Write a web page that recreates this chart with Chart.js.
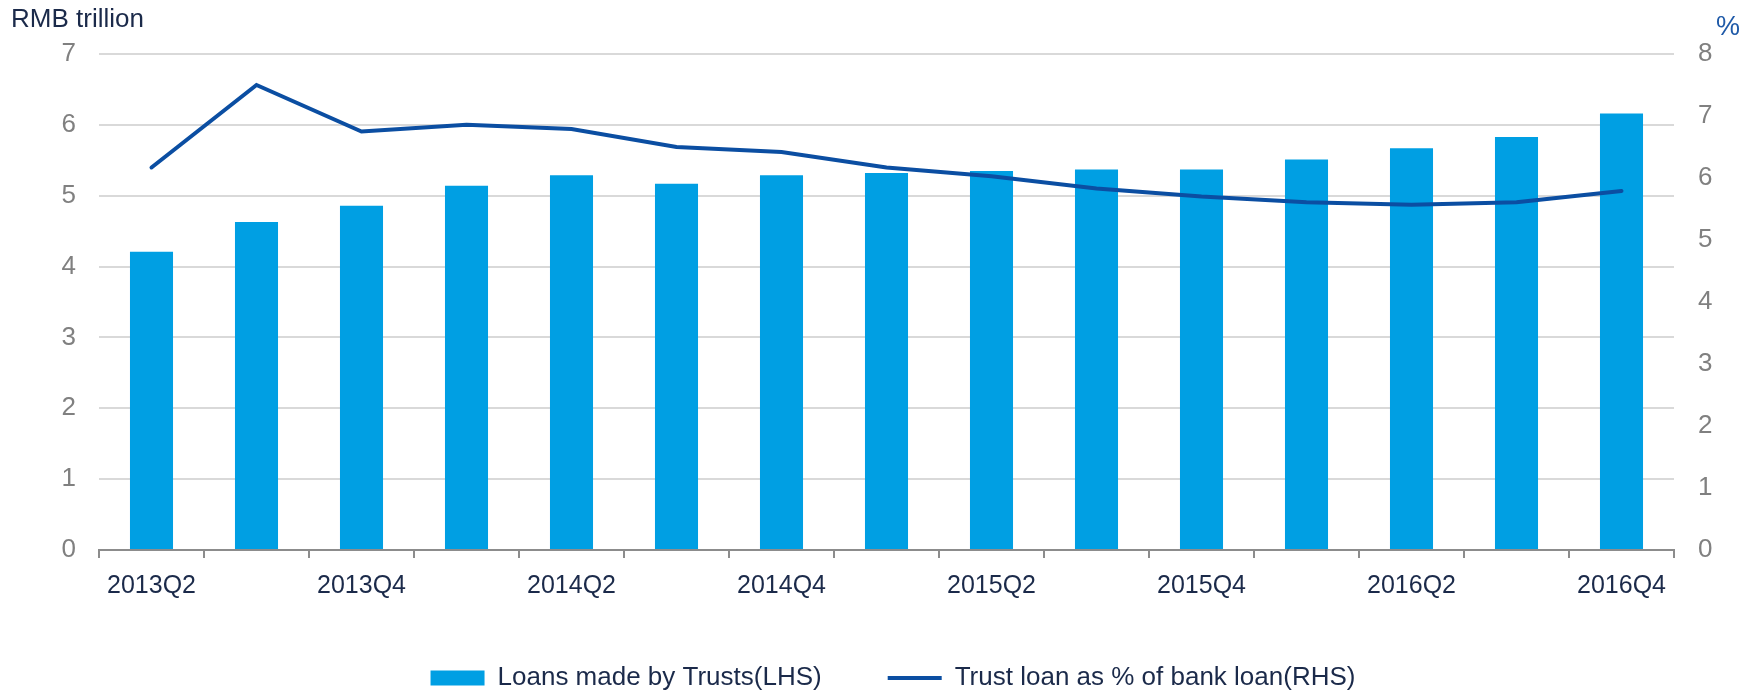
<!DOCTYPE html>
<html>
<head>
<meta charset="utf-8">
<script src="https://cdn.jsdelivr.net/npm/chart.js@4.4.1/dist/chart.umd.min.js"></script>
<style>
    html, body { margin: 0; padding: 0; background: #fff; }
    #wrap { width: 1758px; height: 693px; }
</style>
</head>
<body>
<div id="wrap"><canvas id="trust"></canvas></div>
<script>
const quarters = ['2013Q2', '2013Q3', '2013Q4', '2014Q1', '2014Q2', '2014Q3', '2014Q4', '2015Q1',
    '2015Q2', '2015Q3', '2015Q4', '2016Q1', '2016Q2', '2016Q3', '2016Q4'];
const trustLoans = [4.21, 4.63, 4.86, 5.14, 5.29, 5.17, 5.29, 5.32, 5.35, 5.37, 5.37, 5.51, 5.67, 5.83, 6.16];
const trustShare = [6.17, 7.50, 6.75, 6.86, 6.79, 6.50, 6.42, 6.17, 6.03, 5.83, 5.70, 5.61, 5.57, 5.61, 5.79];

const FONT = '"Liberation Sans", Arial, sans-serif';
const NAVY = '#1B2A4A';

// unit labels above both y axes
const unitLabels = {
    id: 'unitLabels',
    afterDraw(chart) {
        const ctx = chart.ctx;
        const right = chart.scales.y1;
        ctx.save();
        ctx.textBaseline = 'alphabetic';
        ctx.textAlign = 'left';
        ctx.font = '26px ' + FONT;
        ctx.fillStyle = NAVY;
        ctx.fillText('RMB trillion', 11, 27);
        ctx.font = '27px ' + FONT;
        ctx.fillStyle = '#1F5AA8';
        ctx.textAlign = 'center';
        ctx.fillText('%', right.left + 54, 35);
        ctx.restore();
    }
};

const trust_ctx = document.getElementById('trust');

let trust = new Chart(trust_ctx, {
    type: 'bar',
    data: {
        labels: quarters,
        datasets: [{
            type: 'line',
            label: 'Trust loan as % of bank loan(RHS)',
            data: trustShare,
            yAxisID: 'y1',
            borderColor: '#0B4EA2',
            backgroundColor: '#0B4EA2',
            borderWidth: 4,
            borderCapStyle: 'round',
            tension: 0,
            pointRadius: 0,
            pointStyle: 'line',
            order: 1,
        },
        {
            label: 'Loans made by Trusts(LHS)',
            data: trustLoans,
            yAxisID: 'y',
            backgroundColor: '#009FE3',
            borderWidth: 0,
            barPercentage: 0.41,
            categoryPercentage: 1,
            pointStyle: 'rect',
            order: 2,
        }]
    },
    options: {
        responsive: true,
        maintainAspectRatio: false,
        animation: false,
        layout: {
            // left padding only nudges the legend; the y axis width absorbs it
            padding: { top: 54, left: 28, right: 0, bottom: -8 }
        },
        plugins: {
            tooltip: { enabled: false },
            legend: {
                position: 'bottom',
                reverse: true,
                labels: {
                    usePointStyle: true,
                    pointStyleWidth: 54,
                    boxHeight: 15,
                    padding: 66,
                    color: NAVY,
                    font: { family: FONT, size: 26 },
                }
            }
        },
        scales: {
            x: {
                offset: true,
                grid: {
                    offset: true,
                    drawOnChartArea: false,
                    color: '#8C8C8C',
                    lineWidth: 2,
                    tickLength: 8,
                },
                border: { color: '#8C8C8C', width: 2 },
                ticks: {
                    autoSkip: false,
                    maxRotation: 0,
                    padding: 13,
                    color: NAVY,
                    font: { family: FONT, size: 25 },
                    callback: (v, i) => (i % 2 === 0 ? quarters[i] : ''),
                },
                afterFit: (scale) => { scale.height = 49; },
            },
            y: {
                position: 'left',
                min: 0,
                max: 7,
                grid: { color: '#D9D9D9', lineWidth: 2, drawTicks: false },
                border: { display: false },
                ticks: {
                    stepSize: 1,
                    padding: 23,
                    color: '#808080',
                    font: { family: FONT, size: 26 },
                },
                afterFit: (scale) => { scale.width = 71; },
            },
            y1: {
                position: 'right',
                min: 0,
                max: 8,
                grid: { drawOnChartArea: false, drawTicks: false },
                border: { display: false },
                ticks: {
                    stepSize: 1,
                    padding: 24,
                    color: '#808080',
                    font: { family: FONT, size: 26 },
                },
                afterFit: (scale) => { scale.width = 84; },
            }
        }
    },
    plugins: [unitLabels]
});
</script>
</body>
</html>
